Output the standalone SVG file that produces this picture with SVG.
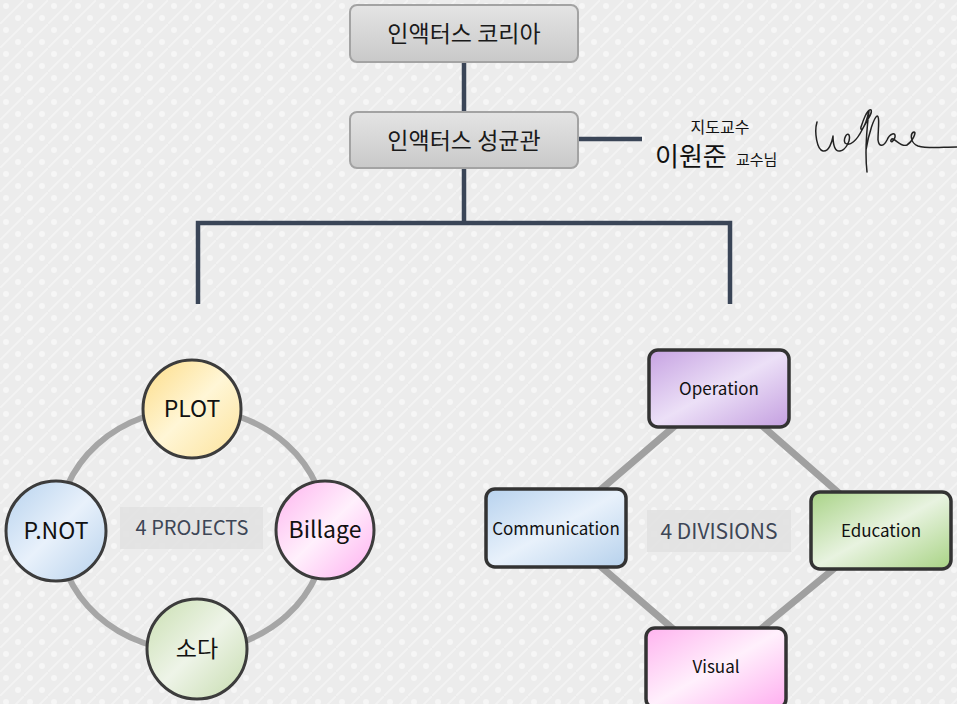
<svg xmlns="http://www.w3.org/2000/svg" width="957" height="704" viewBox="0 0 957 704">
<defs>
  <pattern id="tex" width="24" height="24" patternUnits="userSpaceOnUse">
    <rect width="24" height="24" fill="#ececec"/>
    <circle cx="6" cy="6" r="3" fill="#f6f6f6"/>
    <circle cx="18" cy="18" r="3" fill="#f6f6f6"/>
    <path d="M0,24 L24,0" stroke="#f3f3f3" stroke-width="2"/>
  </pattern>
  <linearGradient id="gGray" x1="0" y1="0" x2="0" y2="1">
    <stop offset="0" stop-color="#e4e4e4"/>
    <stop offset="1" stop-color="#c9c9c9"/>
  </linearGradient>
  <linearGradient id="gYellow" x1="0" y1="0" x2="1" y2="1">
    <stop offset="0" stop-color="#fddc86"/>
    <stop offset="0.5" stop-color="#fff6d6"/>
    <stop offset="1" stop-color="#fce29a"/>
  </linearGradient>
  <linearGradient id="gBlue" x1="0" y1="0" x2="1" y2="1">
    <stop offset="0" stop-color="#b7d2ee"/>
    <stop offset="0.5" stop-color="#e8f1fb"/>
    <stop offset="1" stop-color="#b6d1ec"/>
  </linearGradient>
  <linearGradient id="gPink" x1="0" y1="0" x2="1" y2="1">
    <stop offset="0" stop-color="#ffb3ef"/>
    <stop offset="0.5" stop-color="#fff0fc"/>
    <stop offset="1" stop-color="#ffaef0"/>
  </linearGradient>
  <linearGradient id="gGreen" x1="0" y1="0" x2="1" y2="1">
    <stop offset="0" stop-color="#c9dfb0"/>
    <stop offset="0.5" stop-color="#eef4e8"/>
    <stop offset="1" stop-color="#c6dcae"/>
  </linearGradient>
  <linearGradient id="gPurple" x1="0" y1="0" x2="1" y2="1">
    <stop offset="0" stop-color="#c6a2e2"/>
    <stop offset="0.5" stop-color="#ece0f7"/>
    <stop offset="1" stop-color="#c49fe0"/>
  </linearGradient>
  <linearGradient id="gGreen2" x1="0" y1="0" x2="1" y2="1">
    <stop offset="0" stop-color="#a9d387"/>
    <stop offset="0.5" stop-color="#e8f3e0"/>
    <stop offset="1" stop-color="#a8d384"/>
  </linearGradient>
  <style>
    .topbox { fill: url(#gGray); stroke: #a3a3a3; stroke-width: 2; }
    .toptext { font-family: "Noto Sans CJK KR", "Noto Sans", sans-serif; font-size: 23px; fill: #1a1a1a; text-anchor: middle; }
    .org { fill: none; stroke: #3a4557; stroke-width: 4.5; }
    .ring { fill: none; stroke: #a6a6a6; stroke-width: 6; }
    .dline { stroke: #a0a0a0; stroke-width: 7; }
    .circ { stroke: #3c3c3c; stroke-width: 3; }
    .dbox { stroke: #333; stroke-width: 3.5; }
    .ntext { font-family: "Noto Sans CJK KR", "Noto Sans", sans-serif; font-size: 23px; fill: #111; text-anchor: middle; }
    .btext { font-family: "Noto Sans CJK KR", "Noto Sans", sans-serif; font-size: 17px; fill: #111; text-anchor: middle; }
    .lblbox { fill: #e2e2e2; opacity: 0.9; }
    .lbl { font-family: "Noto Sans CJK KR", "Noto Sans", sans-serif; fill: #3d4656; text-anchor: middle; }
    .prof { font-family: "Noto Sans CJK KR", "Noto Sans", sans-serif; fill: #111; }
  </style>
</defs>

<rect width="957" height="704" fill="url(#tex)"/>

<g id="connectors">
  <path class="org" d="M464,62 V112"/>
  <path class="org" d="M578,139 H642"/>
  <path class="org" d="M464,168 V223 M198,304 V223 H730 V304"/>
  <ellipse class="ring" cx="192" cy="530" rx="134" ry="121"/>
  <path class="dline" d="M719,388 L881,530 L716,666 L556,528 Z" fill="none"/>
</g>

<g id="node-korea">
  <rect class="topbox" x="350" y="5" width="228" height="57" rx="7"/>
  <text class="toptext" x="464" y="42">인액터스 코리아</text>
</g>
<g id="node-skku">
  <rect class="topbox" x="350" y="112" width="228" height="56" rx="7"/>
  <text class="toptext" x="464" y="149">인액터스 성균관</text>
</g>
<g id="node-professor">
  <text class="prof" x="720" y="133" font-size="16" text-anchor="middle">지도교수</text>
  <text class="prof" x="655" y="166" font-size="26">이원준</text>
  <text class="prof" x="736" y="165" font-size="15">교수님</text>
  <path d="M817,122 C814,132 817,150 823,151 C829,152 832,142 833,136 C833,145 835,152 840,151 C846,150 851,140 849,135 C847,132 843,139 845,143 C850,147 857,140 862,130 C867,120 873,113 871,110 C867,108 862,124 861,127 C860,131 864,132 869,111 C866,135 865,155 867,172 M866,150 C869,132 874,118 877,116 C880,116 878,130 878,140 C879,148 884,146 887,140 C890,133 896,132 895,137 C894,142 890,143 891,140 C893,135 900,148 907,145 C912,142 917,132 914,132 C910,133 910,143 918,146 C928,149 942,147 957,147" fill="none" stroke="#222" stroke-width="1.5" stroke-linecap="round" stroke-linejoin="round"/>
</g>

<g id="label-projects">
  <rect class="lblbox" x="120" y="507" width="143" height="42"/>
  <text class="lbl" x="192" y="535" font-size="20">4 PROJECTS</text>
</g>
<g id="node-plot">
  <circle class="circ" cx="192" cy="409" r="49" fill="url(#gYellow)"/>
  <text class="ntext" x="192" y="417">PLOT</text>
</g>
<g id="node-pnot">
  <circle class="circ" cx="56" cy="531" r="50" fill="url(#gBlue)"/>
  <text class="ntext" x="56" y="539">P.NOT</text>
</g>
<g id="node-billage">
  <circle class="circ" cx="325" cy="530" r="49" fill="url(#gPink)"/>
  <text class="ntext" x="325" y="538">Billage</text>
</g>
<g id="node-soda">
  <circle class="circ" cx="197" cy="649" r="50" fill="url(#gGreen)"/>
  <text class="ntext" x="197" y="657">소다</text>
</g>

<g id="label-divisions">
  <rect class="lblbox" x="647" y="510" width="144" height="42"/>
  <text class="lbl" x="719" y="539" font-size="21">4 DIVISIONS</text>
</g>
<g id="node-operation">
  <rect class="dbox" x="649" y="350" width="140" height="77" rx="9" fill="url(#gPurple)"/>
  <text class="btext" x="719" y="395">Operation</text>
</g>
<g id="node-communication">
  <rect class="dbox" x="486" y="489" width="140" height="78" rx="9" fill="url(#gBlue)"/>
  <text class="btext" x="556" y="535">Communication</text>
</g>
<g id="node-education">
  <rect class="dbox" x="811" y="492" width="140" height="77" rx="9" fill="url(#gGreen2)"/>
  <text class="btext" x="881" y="537">Education</text>
</g>
<g id="node-visual">
  <rect class="dbox" x="646" y="628" width="140" height="80" rx="9" fill="url(#gPink)"/>
  <text class="btext" x="716" y="673">Visual</text>
</g>
</svg>
